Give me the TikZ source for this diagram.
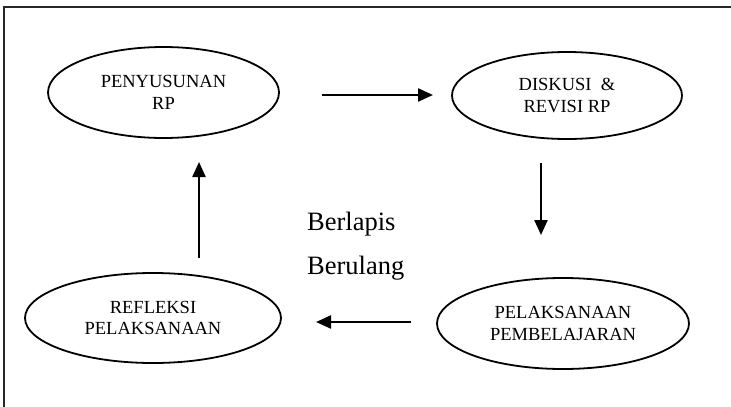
\documentclass[tikz,border=0pt]{standalone}
\usepackage{fontspec}
\setmainfont{Liberation Serif}
\usetikzlibrary{shapes.geometric,arrows.meta}
\tikzset{
  stage/.style={draw, line width=1.8pt, ellipse, inner sep=0pt, align=center,
    font=\fontsize{18.5}{21.5}\selectfont},
  flow/.style={line width=2.3pt, -{Triangle[length=15pt,width=13pt]}},
  frameline/.style={line width=2pt, draw=black!85},
  bigtext/.style={font=\fontsize{26.5}{30}\selectfont, anchor=base west, inner sep=0pt}
}
\begin{document}
\begin{tikzpicture}[x=1pt,y=-1pt]
\useasboundingbox (0,0) rectangle (731,407);
% frame
\coordinate (fA) at (4,407);
\coordinate (fB) at (4,7);
\coordinate (fC) at (731,7);
\draw[frameline] (fA) -- (fB) -- (fC);
% stages
\node[stage, minimum width=231pt, minimum height=91pt] (p1) at (163.5,92.5) {PENYUSUNAN\\RP};
\node[stage, minimum width=230pt, minimum height=87pt] (p2) at (567,95.5) {DISKUSI\ \ \&\\REVISI RP};
\node[stage, minimum width=252pt, minimum height=91pt] (p3) at (563,323.5) {PELAKSANAAN\\PEMBELAJARAN};
\node[stage, minimum width=256pt, minimum height=90pt] (p4) at (153,318) {REFLEKSI\\PELAKSANAAN};
% middle text
\node[bigtext] (t1) at (307,230) {Berlapis};
\node[bigtext] (t2) at (307,274) {Berulang};
% arrow ends
\coordinate (a1s) at (322,95);
\coordinate (a1e) at (433,95);
\coordinate (a2s) at (541,163);
\coordinate (a2e) at (541,235);
\coordinate (a3s) at (411,322);
\coordinate (a3e) at (316,322);
\coordinate (a4s) at (199,258);
\coordinate (a4e) at (199,162);
\draw[flow] (a1s) -- (a1e);
\draw[flow] (a2s) -- (a2e);
\draw[flow] (a3s) -- (a3e);
\draw[flow] (a4s) -- (a4e);
\end{tikzpicture}
\end{document}
